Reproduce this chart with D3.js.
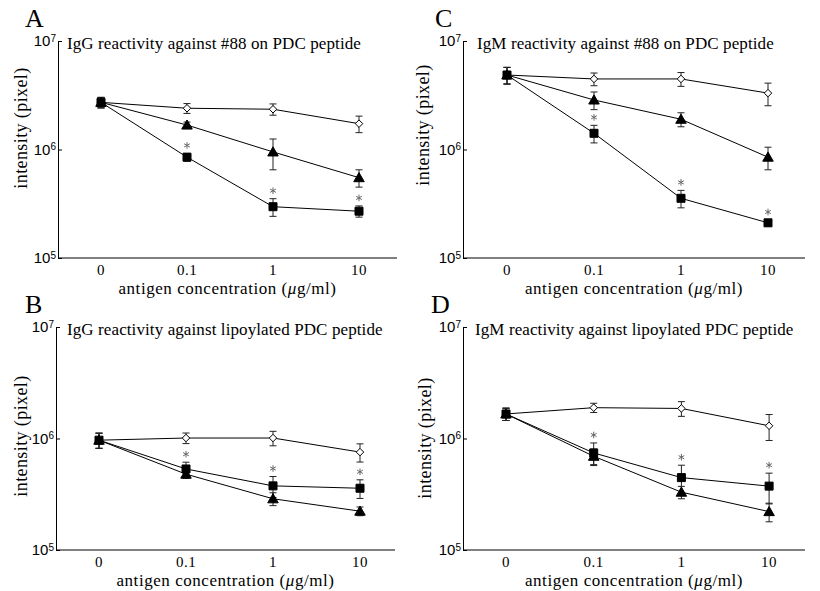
<!DOCTYPE html>
<html>
<head>
<meta charset="utf-8">
<script src="https://cdn.jsdelivr.net/npm/d3@7"></script>
<style>
  html, body { margin: 0; padding: 0; background: #fff; }
  svg { display: block; font-family: "Liberation Serif", "DejaVu Serif", serif; }
</style>
</head>
<body>
<svg id="fig" width="820" height="591"></svg>
<script>
// Antigen concentrations (µg/ml) on the x axis
const categories = ["0", "0.1", "1", "10"];
const yTicks = [1e5, 1e6, 1e7];

// Panel A: IgG reactivity against #88 on PDC peptide
const aOpen   = [2.72e6, 2.40e6, 2.35e6, 1.73e6];
const aOpenSE = [0.30e6, 0.25e6, 0.28e6, 0.30e6];
const aTri    = [2.72e6, 1.68e6, 0.95e6, 0.55e6];
const aTriSE  = [0.30e6, 0.11e6, 0.30e6, 0.10e6];
const aSq     = [2.72e6, 0.85e6, 0.297e6, 0.27e6];
const aSqSE   = [0.30e6, 0.07e6, 0.055e6, 0.032e6];
const aStars  = [false, true, true, true];

// Panel B: IgG reactivity against lipoylated PDC peptide
const bOpen   = [0.966e6, 1.01e6, 1.01e6, 0.755e6];
const bOpenSE = [0.15e6, 0.11e6, 0.15e6, 0.14e6];
const bTri    = [0.966e6, 0.479e6, 0.288e6, 0.223e6];
const bTriSE  = [0.15e6, 0.04e6, 0.038e6, 0.02e6];
const bSq     = [0.966e6, 0.533e6, 0.376e6, 0.358e6];
const bSqSE   = [0.15e6, 0.08e6, 0.08e6, 0.068e6];
const bStars  = [false, true, true, true];

// Panel C: IgM reactivity against #88 on PDC peptide
const cOpen   = [4.86e6, 4.47e6, 4.47e6, 3.31e6];
const cOpenSE = [0.85e6, 0.60e6, 0.65e6, 0.78e6];
const cTri    = [4.86e6, 2.86e6, 1.90e6, 0.85e6];
const cTriSE  = [0.85e6, 0.53e6, 0.28e6, 0.20e6];
const cSq     = [4.86e6, 1.41e6, 0.355e6, 0.211e6];
const cSqSE   = [0.85e6, 0.26e6, 0.065e6, 0.013e6];
const cStars  = [false, true, true, true];

// Panel D: IgM reactivity against lipoylated PDC peptide
const dOpen   = [1.66e6, 1.89e6, 1.86e6, 1.30e6];
const dOpenSE = [0.21e6, 0.18e6, 0.28e6, 0.34e6];
const dTri    = [1.66e6, 0.693e6, 0.33e6, 0.221e6];
const dTriSE  = [0.21e6, 0.11e6, 0.042e6, 0.042e6];
const dSq     = [1.66e6, 0.742e6, 0.446e6, 0.374e6];
const dSqSE   = [0.21e6, 0.17e6, 0.13e6, 0.115e6];
const dStars  = [false, true, true, true];

const panels = [
  { letter: "A", title: "IgG reactivity against #88 on PDC peptide",
    open: aOpen, openSE: aOpenSE, tri: aTri, triSE: aTriSE, sq: aSq, sqSE: aSqSE, stars: aStars,
    x0: 58, x1: 397, yTop: 41, yBot: 258, letterX: 25, letterY: 27,
    titleX: 67, ylabX: 21, ylabY: 128, firstX: 101, stepX: 86 },
  { letter: "B", title: "IgG reactivity against lipoylated PDC peptide",
    open: bOpen, openSE: bOpenSE, tri: bTri, triSE: bTriSE, sq: bSq, sqSE: bSqSE, stars: bStars,
    x0: 56, x1: 395, yTop: 327, yBot: 550, letterX: 25, letterY: 313,
    titleX: 67, ylabX: 21, ylabY: 436, firstX: 99, stepX: 87 },
  { letter: "C", title: "IgM reactivity against #88 on PDC peptide",
    open: cOpen, openSE: cOpenSE, tri: cTri, triSE: cTriSE, sq: cSq, sqSE: cSqSE, stars: cStars,
    x0: 463, x1: 805, yTop: 41, yBot: 258, letterX: 435, letterY: 27,
    titleX: 477, ylabX: 423, ylabY: 125, firstX: 507, stepX: 87 },
  { letter: "D", title: "IgM reactivity against lipoylated PDC peptide",
    open: dOpen, openSE: dOpenSE, tri: dTri, triSE: dTriSE, sq: dSq, sqSE: dSqSE, stars: dStars,
    x0: 463, x1: 805, yTop: 327, yBot: 550, letterX: 431, letterY: 313,
    titleX: 475, ylabX: 425, ylabY: 438, firstX: 506, stepX: 87.7 }
];

const svg = d3.select("#fig");
svg.append("rect").attr("width", 820).attr("height", 591).attr("fill", "#fff");

const symSquare = d3.symbol().type(d3.symbolSquare).size(64);
const symTri = d3.symbol().type(d3.symbolTriangle).size(48);
const symDiamond = d3.symbol().type(d3.symbolDiamond2).size(36);
const symStar = d3.symbol().type(d3.symbolAsterisk).size(30);

panels.forEach(p => {
  const g = svg.append("g");
  const x = d3.scalePoint().domain(categories)
    .range([p.firstX, p.firstX + p.stepX * (categories.length - 1)]);
  const y = d3.scaleLog().domain([1e5, 1e7]).range([p.yBot, p.yTop]);

  // panel letter
  g.append("text").attr("x", p.letterX).attr("y", p.letterY)
    .attr("font-size", 26).text(p.letter);

  // y axis with inward ticks and power-of-ten labels
  const yAxis = g.append("g").attr("transform", `translate(${p.x0},0)`)
    .call(d3.axisLeft(y).tickValues(yTicks).tickSizeInner(-4).tickSizeOuter(0).tickPadding(3).tickFormat(""));
  yAxis.select(".domain").attr("stroke", "#000");
  yAxis.selectAll(".tick line").attr("stroke", "#000");
  yAxis.selectAll(".tick text").remove();
  yAxis.selectAll(".tick").append("text")
    .attr("x", -2).attr("dy", "0.33em").attr("text-anchor", "end")
    .attr("font-size", 15).attr("fill", "#000")
    .text("10")
    .append("tspan").attr("dy", "-0.45em").attr("font-size", 10)
    .text(d => Math.round(Math.log10(d)));

  // x axis baseline and category labels
  g.append("line").attr("x1", p.x0).attr("x2", p.x1)
    .attr("y1", p.yBot).attr("y2", p.yBot).attr("stroke", "#000");
  g.selectAll(".xlab").data(categories).join("text")
    .attr("x", d => x(d)).attr("y", p.yBot + 17)
    .attr("text-anchor", "middle").attr("font-size", 15)
    .attr("letter-spacing", 0.5).text(d => d);

  // axis titles
  const xt = g.append("text")
    .attr("x", (p.x0 + p.x1) / 2).attr("y", p.yBot + 35.5)
    .attr("text-anchor", "middle").attr("font-size", 17)
    .attr("letter-spacing", 0.55);
  xt.append("tspan").text("antigen concentration (");
  xt.append("tspan").attr("font-style", "italic").text("\u03bc");
  xt.append("tspan").text("g/ml)");

  g.append("text")
    .attr("transform", `translate(${p.ylabX},${p.ylabY}) rotate(-90)`)
    .attr("text-anchor", "middle").attr("dy", "0.35em").attr("font-size", 18)
    .attr("letter-spacing", 0.4)
    .text("intensity (pixel)");

  // panel title
  g.append("text").attr("x", p.titleX).attr("y", p.yTop + 8)
    .attr("font-size", 17).attr("letter-spacing", 0.1).text(p.title);

  const series = [
    { vals: p.open, se: p.openSE, sym: symDiamond, fill: "#fff" },
    { vals: p.tri, se: p.triSE, sym: symTri, fill: "#000" },
    { vals: p.sq, se: p.sqSE, sym: symSquare, fill: "#000" }
  ];
  const line = d3.line().x((d, i) => x(categories[i])).y(d => y(d));

  // connecting lines
  series.forEach(s => {
    g.append("path").attr("d", line(s.vals))
      .attr("fill", "none").attr("stroke", "#000").attr("stroke-width", 1);
  });

  // error bars (mean ± SE)
  series.forEach(s => {
    s.vals.forEach((v, i) => {
      const cx = x(categories[i]);
      const hi = y(v + s.se[i]);
      const lo = y(Math.max(v - s.se[i], 1e5));
      const eg = g.append("g").attr("stroke", "#222").attr("stroke-width", 1);
      eg.append("line").attr("x1", cx).attr("x2", cx).attr("y1", hi).attr("y2", lo);
      eg.append("line").attr("x1", cx - 3.5).attr("x2", cx + 3.5).attr("y1", hi).attr("y2", hi);
      eg.append("line").attr("x1", cx - 3.5).attr("x2", cx + 3.5).attr("y1", lo).attr("y2", lo);
    });
  });

  // markers
  series.forEach(s => {
    g.selectAll(null).data(s.vals).join("path")
      .attr("transform", (d, i) => {
        const dy = s.sym === symTri ? 1 : 0;
        return `translate(${x(categories[i])},${y(d) + dy})`;
      })
      .attr("d", s.sym)
      .attr("fill", s.fill).attr("stroke", "#000").attr("stroke-width", 1);
  });

  // significance marks above the square series
  p.stars.forEach((st, i) => {
    if (!st) return;
    g.append("path")
      .attr("transform", `translate(${x(categories[i])},${y(p.sq[i] + p.sqSE[i]) - 8})`)
      .attr("d", symStar)
      .attr("fill", "none").attr("stroke", "#666").attr("stroke-width", 1);
  });
});
</script>
</body>
</html>
